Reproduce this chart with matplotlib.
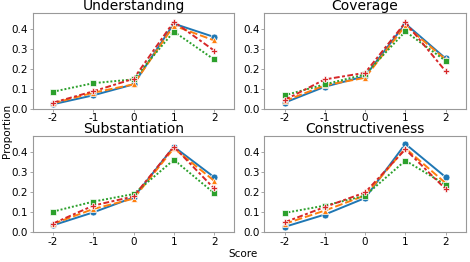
import matplotlib.pyplot as plt

scores = [-2, -1, 0, 1, 2]
aspects = ["Understanding", "Coverage", "Substantiation", "Constructiveness"]

# one list per series, per aspect (order: blue, orange, green, red)
understanding = [
    [0.022, 0.067, 0.122, 0.427, 0.360],
    [0.027, 0.080, 0.122, 0.417, 0.343],
    [0.085, 0.128, 0.147, 0.387, 0.247],
    [0.030, 0.087, 0.150, 0.437, 0.292],
]
coverage = [
    [0.030, 0.110, 0.163, 0.427, 0.252],
    [0.038, 0.117, 0.155, 0.417, 0.247],
    [0.067, 0.122, 0.172, 0.388, 0.240],
    [0.043, 0.147, 0.180, 0.433, 0.188],
]
substantiation = [
    [0.033, 0.098, 0.173, 0.428, 0.275],
    [0.040, 0.115, 0.167, 0.420, 0.257],
    [0.102, 0.152, 0.190, 0.362, 0.195],
    [0.042, 0.132, 0.178, 0.428, 0.218],
]
constructiveness = [
    [0.025, 0.087, 0.170, 0.442, 0.275],
    [0.040, 0.107, 0.183, 0.420, 0.245],
    [0.095, 0.132, 0.182, 0.358, 0.237],
    [0.048, 0.125, 0.198, 0.415, 0.215],
]
all_data = [understanding, coverage, substantiation, constructiveness]

colors = ["#1f77b4", "#ff7f0e", "#2ca02c", "#d62728"]
markers = ["o", "^", "s", "P"]
styles = ["-", (0, (4, 1.5)), (0, (1, 1)), (0, (3, 1.25, 1.5, 1.25))]

fig, axes = plt.subplots(2, 2, figsize=(4.7, 2.62), dpi=100)
fig.subplots_adjust(left=0.07, right=0.991, top=0.95, bottom=0.115,
                    wspace=0.15, hspace=0.29)

for ax, name, data in zip(axes.flat, aspects, all_data):
    for vals, c, m, ls in zip(data, colors, markers, styles):
        ax.plot(scores, vals, color=c, marker=m, linestyle=ls, lw=1.4,
                markersize=5, markeredgecolor="white", markeredgewidth=0.5)
    ax.set_title(name, fontsize=10, pad=1.5)
    ax.set_xlim(-2.5, 2.5)
    ax.set_ylim(0, 0.48)
    ax.set_xticks(scores)
    ax.set_xticklabels([str(s) for s in scores])
    ax.set_yticks([0, 0.1, 0.2, 0.3, 0.4])
    ax.tick_params(labelsize=7.5, length=2, width=0.6, color="#999999", pad=1.5)
    for sp in ax.spines.values():
        sp.set_color("#999999")

fig.text(0.517, 0.02, "Score", ha="center", fontsize=7.5)
fig.text(0.004, 0.5, "Proportion", va="center", rotation=90, fontsize=7.5)

plt.savefig("out.png", dpi=100)
